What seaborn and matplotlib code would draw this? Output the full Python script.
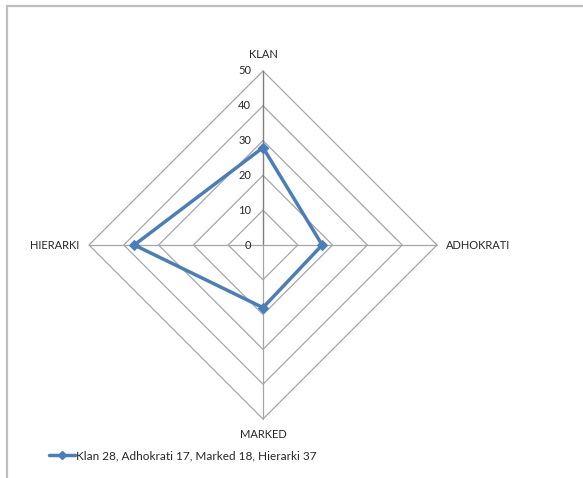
import numpy as np
import pandas as pd
import matplotlib
matplotlib.use("Agg")
import matplotlib.pyplot as plt
import seaborn as sns
from matplotlib.lines import Line2D

# Culture profile scores per axis
categories = ["KLAN", "ADHOKRATI", "MARKED", "HIERARKI"]
values = [28, 17, 18, 37]
series_name = "Klan 28, Adhokrati 17, Marked 18, Hierarki 37"
rticks = [0, 10, 20, 30, 40, 50]

sns.set_style("white")
plt.rcParams["font.family"] = ["Lato", "DejaVu Sans"]

W, H = 583, 478
fig = plt.figure(figsize=(W / 100, H / 100), dpi=100)
ax = fig.add_axes([0, 0, 1, 1])

# Pixel geometry of the radar: centre and outer radius
cx, cy, rad_px = 263, 245, 174
rmax = rticks[-1]
scale = rad_px / rmax
ax.set_xlim(-cx / scale, (W - cx) / scale)
ax.set_ylim(-(H - cy) / scale, cy / scale)
ax.set_axis_off()

n = len(categories)
angles = np.pi / 2 - np.arange(n) * 2 * np.pi / n
ca, sa = np.cos(angles), np.sin(angles)

grid_col = "#a6a6a6"
# Diamond-shaped rings
for r in rticks[1:]:
    xs = np.append(r * ca, r * ca[0])
    ys = np.append(r * sa, r * sa[0])
    ax.plot(xs, ys, color=grid_col, lw=0.9, zorder=1)
# Spokes (value axis drawn darker)
for i in range(n):
    col = "#7f7f7f" if i == 0 else grid_col
    ax.plot([0, rmax * ca[i]], [0, rmax * sa[i]], color=col, lw=1.0 if i == 0 else 0.9, zorder=1.5)

# Radial tick labels along the value axis
for r in rticks:
    ax.text(-12 / scale, r, str(r), ha="right", va="center", fontsize=8, color="#262626")

# Category labels
ax.text(0, rmax + 16 / scale, categories[0], ha="center", va="center", fontsize=8, color="#262626")
ax.text(rmax + 9 / scale, 0, categories[1], ha="left", va="center", fontsize=8, color="#262626")
ax.text(0, -(rmax + 16 / scale), categories[2], ha="center", va="center", fontsize=8, color="#262626")
ax.text(-(rmax + 10 / scale), 0, categories[3], ha="right", va="center", fontsize=8, color="#262626")

# Data polygon
vals = np.array(values, dtype=float)
df = pd.DataFrame({
    "x": np.append(vals * ca, vals[0] * ca[0]),
    "y": np.append(vals * sa, vals[0] * sa[0]),
})
blue = "#4a7ebb"
sns.lineplot(data=df, x="x", y="y", sort=False, estimator=None, color=blue,
             linewidth=2.5, marker="D", markersize=5.5, markeredgecolor=blue,
             ax=ax, zorder=3, legend=False)

handle = Line2D([], [], color=blue, lw=2.5, marker="D", markersize=4.5, markeredgecolor=blue)
ax.legend([handle], [series_name], loc="center left",
          bbox_to_anchor=(49 / W, 1 - 456 / H), frameon=False, fontsize=8.5,
          borderpad=0, borderaxespad=0, handletextpad=0.1, handlelength=2.2)

# Chart-area frame (top and left edges)
fx, fy = 6.5 / W, 1 - 5.5 / H
fig.add_artist(Line2D([fx, fx], [0, fy], transform=fig.transFigure, color="#bfbfbf", lw=1.6))
fig.add_artist(Line2D([fx, 1], [fy, fy], transform=fig.transFigure, color="#bfbfbf", lw=1.6))

fig.savefig("out.png", dpi=100, facecolor="white")
